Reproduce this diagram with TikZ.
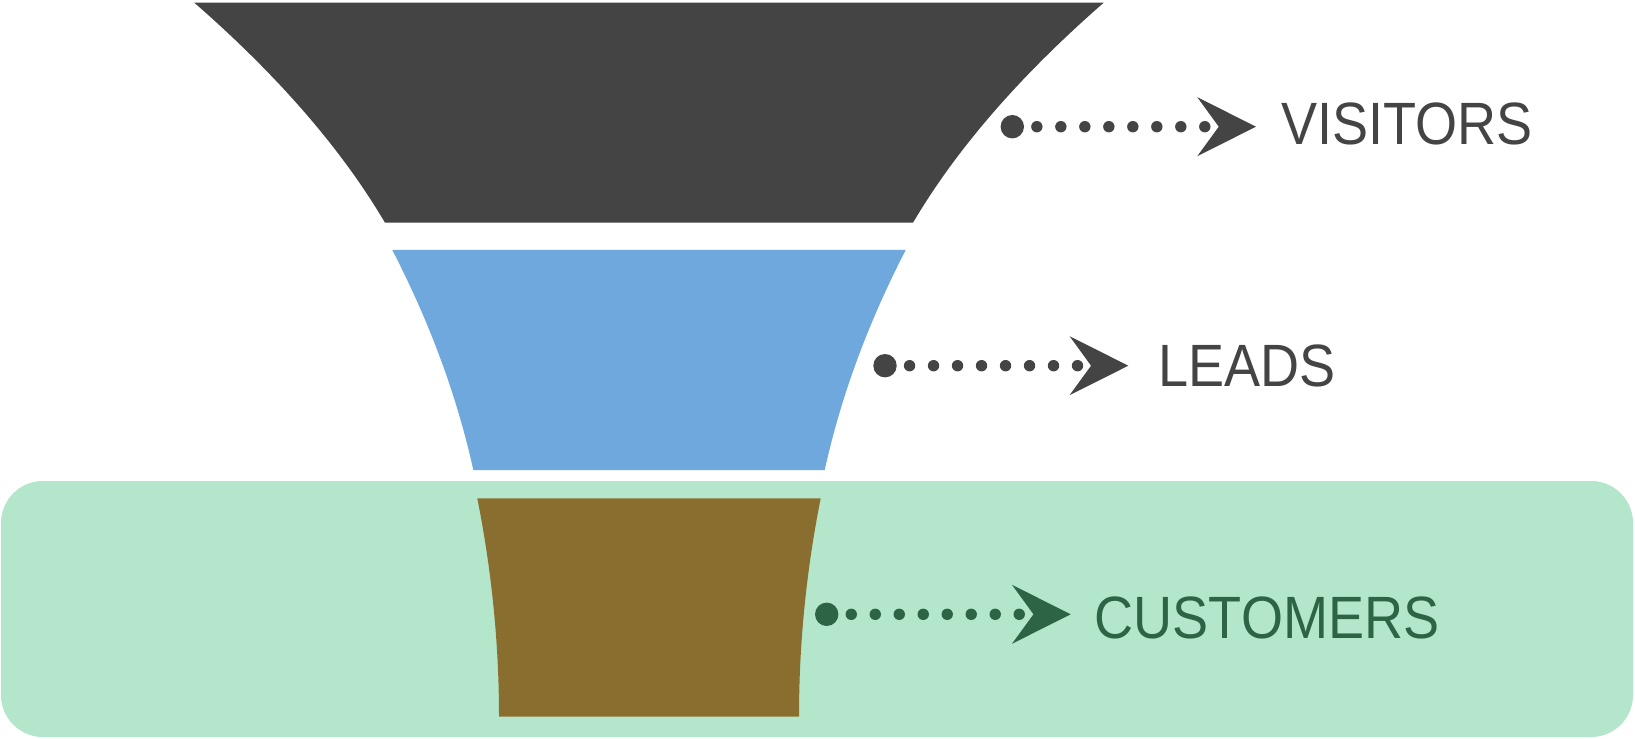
\documentclass[tikz,border=0pt]{standalone}
\usepackage{fontspec}
\setmainfont{Liberation Sans}[FakeStretch=0.905]
\usetikzlibrary{arrows.meta}
\definecolor{fgray}{HTML}{444444}
\definecolor{fblue}{HTML}{6FA8DC}
\definecolor{fbrown}{HTML}{8A6E2F}
\definecolor{fgreenbg}{HTML}{B3E6CB}
\definecolor{fgreen}{HTML}{2E6446}
\tikzset{
  bigdot/.style={circle, fill, draw=none, inner sep=0pt, minimum size=0.468cm},
  dotline/.style={line width=0.228cm, line cap=round, dash pattern=on 0pt off 0.48cm,
    shorten <=0.25cm,
    -{Stealth[length=1.175cm, width=1.18cm, inset=0.43cm, line width=0pt]}},
  labeltext/.style={anchor=base west, inner sep=0pt, font=\fontsize{34pt}{40pt}\selectfont},
}
\begin{document}
\begin{tikzpicture}[x=0.02cm, y=-0.02cm]
\useasboundingbox (0,0) rectangle (1635,739);
\fill[white] (0,0) rectangle (1635,739);
% customers band background
\fill[fgreenbg, rounded corners=0.84cm] (1,481) rectangle (1633,737);
% funnel bands
\fill[fgray] (194.3,2.7) .. controls (278.3,76) and (341.8,149.4) .. (385,222.7)
  -- (913,222.7) .. controls (956.2,149.4) and (1019.7,76) .. (1103.7,2.7) -- cycle;
\fill[fblue] (392.3,250) .. controls (430.1,323.2) and (457.1,396.5) .. (473.3,470)
  -- (824.7,470) .. controls (840.9,396.5) and (867.9,323.2) .. (905.7,250) -- cycle;
\fill[fbrown] (477.3,498.3) .. controls (491.8,571.1) and (499,643.9) .. (499,716.7)
  -- (799,716.7) .. controls (799,643.9) and (806.2,571.1) .. (820.7,498.3) -- cycle;
% visitors
\node[bigdot, fgray] (vdot) at (1012.3,126.7) {};
\coordinate (vtip) at (1256,126.7);
\node[labeltext, text=fgray] (vlabel) at (1281,144.5) {VISITORS};
\draw[fgray, dotline] (vdot) -- (vtip);
% leads
\node[bigdot, fgray] (ldot) at (885,365.7) {};
\coordinate (ltip) at (1128.3,365.7);
\node[labeltext, text=fgray] (llabel) at (1158,386.7) {LEADS};
\draw[fgray, dotline] (ldot) -- (ltip);
% customers
\node[bigdot, fgreen] (cdot) at (826.7,614.3) {};
\coordinate (ctip) at (1070.7,614.3);
\node[labeltext, text=fgreen] (clabel) at (1094.5,638.5) {CUSTOMERS};
\draw[fgreen, dotline] (cdot) -- (ctip);
\end{tikzpicture}
\end{document}
